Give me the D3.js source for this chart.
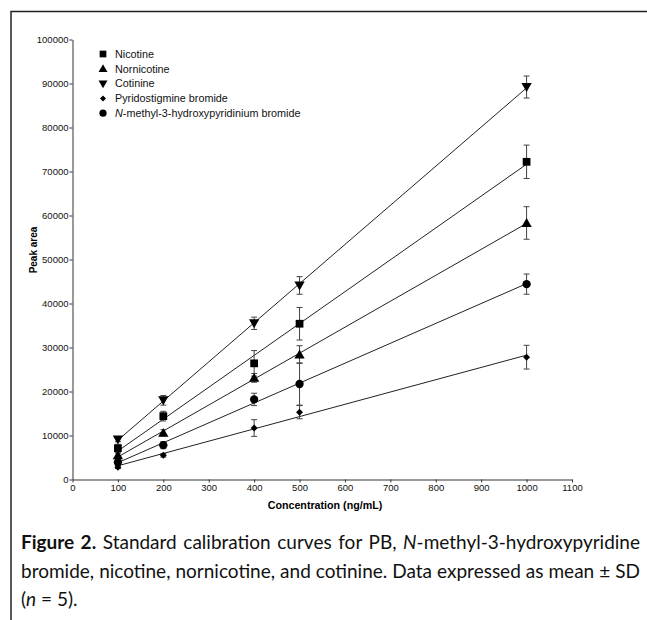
<!DOCTYPE html>
<html>
<head>
<meta charset="utf-8">
<script src="https://cdn.jsdelivr.net/npm/d3@7"></script>
<style>
  body { margin: 0; background: #fff; }
  svg { display: block; }
  .tick text { font-family: "Liberation Sans", Arial, sans-serif; font-size: 9.5px; fill: #111; }
  .tick line, .domain { stroke: #333; }
</style>
</head>
<body>
<svg id="fig" width="647" height="620"></svg>
<script>
// values (peak area, mean and SD)
const concentrations = [100, 200, 400, 500, 1000];

const nicotine     = [7100, 14400, 26400, 35400, 72200];
const nicotineSD   = [900, 1100, 2900, 3700, 3800];
const nornicotine   = [5500, 10600, 23100, 28400, 58300];
const nornicotineSD = [500, 700, 1000, 2000, 3700];
const cotinine     = [9100, 18000, 35500, 44100, 89200];
const cotinineSD   = [500, 1100, 1400, 2000, 2500];
const pb           = [2800, 5500, 11700, 15300, 27800];
const pbSD         = [300, 400, 1900, 1500, 2700];
const nmethyl      = [3900, 7800, 18200, 21700, 44400];
const nmethylSD    = [600, 800, 1400, 4800, 2300];

const seriesNames = ["Nicotine", "Nornicotine", "Cotinine", "Pyridostigmine bromide", "N-methyl-3-hydroxypyridinium bromide"];
const xTicks = [0, 100, 200, 300, 400, 500, 600, 700, 800, 900, 1000, 1100];
const yTicks = [0, 10000, 20000, 30000, 40000, 50000, 60000, 70000, 80000, 90000, 100000];

const series = [
  {name: seriesNames[0], y: nicotine, sd: nicotineSD, sym: d3.symbolSquare, size: 60, rot: 0, dy: 0},
  {name: seriesNames[1], y: nornicotine, sd: nornicotineSD, sym: d3.symbolTriangle, size: 46, rot: 0, dy: 1},
  {name: seriesNames[2], y: cotinine, sd: cotinineSD, sym: d3.symbolTriangle, size: 46, rot: 180, dy: -1},
  {name: seriesNames[3], y: pb, sd: pbSD, sym: d3.symbolSquare, size: 24, rot: 45, dy: 0},
  {name: seriesNames[4], y: nmethyl, sd: nmethylSD, sym: d3.symbolCircle, size: 54, rot: 0, dy: 0}
];

const svg = d3.select("#fig");
const font = '"Liberation Sans", Arial, sans-serif';

// page frame (top and left rule)
svg.append("path")
   .attr("d", "M11,620 V11.5 H647")
   .attr("fill", "none")
   .attr("stroke", "#222")
   .attr("stroke-width", 1.5);

let x = d3.scaleLinear().domain([0, 1100]).range([72.5, 572]);
let y = d3.scaleLinear().domain([0, 100000]).range([479.5, 39.5]);

svg.append("g")
   .attr("transform", "translate(0,479.5)")
   .call(d3.axisBottom(x).tickValues(xTicks).tickSize(3).tickPadding(2).tickSizeOuter(0).tickFormat(d3.format("d")));
svg.append("g")
   .attr("transform", "translate(72.5,0)")
   .call(d3.axisLeft(y).tickValues(yTicks).tickSize(3).tickPadding(1).tickSizeOuter(0).tickFormat(d3.format("d")));

svg.append("text")
   .attr("x", 325).attr("y", 508.5)
   .attr("text-anchor", "middle")
   .attr("font-family", font).attr("font-size", 10.7).attr("font-weight", "bold")
   .text("Concentration (ng/mL)");
svg.append("text")
   .attr("transform", "translate(36.5,250) rotate(-90)")
   .attr("text-anchor", "middle")
   .attr("font-family", font).attr("font-size", 10).attr("font-weight", "bold")
   .text("Peak area");

// regression line per series, fitted to the means
function fit(ys) {
  let mx = d3.mean(concentrations), my = d3.mean(ys);
  let sxy = d3.sum(concentrations, (c, i) => (c - mx) * (ys[i] - my));
  let sxx = d3.sum(concentrations, c => (c - mx) * (c - mx));
  let b = sxy / sxx;
  return c => my + b * (c - mx);
}

let plot = svg.append("g");
series.forEach(s => {
  let f = fit(s.y);
  let ends = [d3.min(concentrations), d3.max(concentrations)];
  plot.append("path")
      .attr("d", d3.line().x(c => x(c)).y(c => y(f(c)))(ends))
      .attr("fill", "none")
      .attr("stroke", "#222")
      .attr("stroke-width", 1);

  let pts = concentrations.map((c, i) => ({c: c, v: s.y[i], sd: s.sd[i]}));
  let eb = plot.append("g").selectAll("g").data(pts).join("g");
  eb.append("line")
    .attr("x1", d => x(d.c)).attr("x2", d => x(d.c))
    .attr("y1", d => y(d.v + d.sd)).attr("y2", d => y(d.v - d.sd))
    .attr("stroke", "#444").attr("stroke-width", 1);
  [1, -1].forEach(k => {
    eb.append("line")
      .attr("x1", d => x(d.c) - 3).attr("x2", d => x(d.c) + 3)
      .attr("y1", d => y(d.v + k * d.sd)).attr("y2", d => y(d.v + k * d.sd))
      .attr("stroke", "#444").attr("stroke-width", 1);
  });
  plot.append("g").selectAll("path").data(pts).join("path")
      .attr("d", d3.symbol().type(s.sym).size(s.size))
      .attr("transform", d => `translate(${x(d.c)},${y(d.v) + s.dy}) rotate(${s.rot})`)
      .attr("fill", "#000");
});

// legend
let legend = svg.append("g");
series.forEach((s, i) => {
  let ly = 54 + i * 14.8;
  legend.append("path")
        .attr("d", d3.symbol().type(s.sym).size(s.size * 0.75))
        .attr("transform", `translate(103,${ly + s.dy * 0.5}) rotate(${s.rot})`)
        .attr("fill", "#000");
  let t = legend.append("text")
        .attr("x", 115).attr("y", ly + 3.8)
        .attr("font-family", font).attr("font-size", 10.8).attr("fill", "#111");
  if (i === 4) {
    t.append("tspan").attr("font-style", "italic").text("N");
    t.append("tspan").text(s.name.slice(1));
  } else {
    t.text(s.name);
  }
});

// caption, justified on the first two lines
const capFont = 'Lato, "Noto Sans", sans-serif';
const captionLines = [
  [["Figure 2.", "b"], [" Standard calibration curves for PB, ", ""], ["N", "i"], ["-methyl-3-hydroxypyridine", ""]],
  [["bromide, nicotine, nornicotine, and cotinine. Data expressed as mean \u00b1 SD", ""]],
  [["(", ""], ["n", "i"], [" = 5).", ""]]
];
const capY = [549, 577.5, 606];
captionLines.forEach((segs, li) => {
  let t = svg.append("text")
     .attr("x", 21).attr("y", capY[li])
     .attr("font-family", capFont).attr("font-size", 19).attr("fill", "#111");
  segs.forEach(sg => {
    let ts = t.append("tspan").text(sg[0]);
    if (sg[1] === "b") ts.attr("font-weight", "bold");
    if (sg[1] === "i") ts.attr("font-style", "italic");
  });
  if (li < 2) {
    let w = t.node().getComputedTextLength();
    let spaces = segs.map(sg => sg[0]).join("").split(" ").length - 1;
    t.attr("word-spacing", (640 - 21 - w) / spaces);
  }
});
</script>
</body>
</html>
